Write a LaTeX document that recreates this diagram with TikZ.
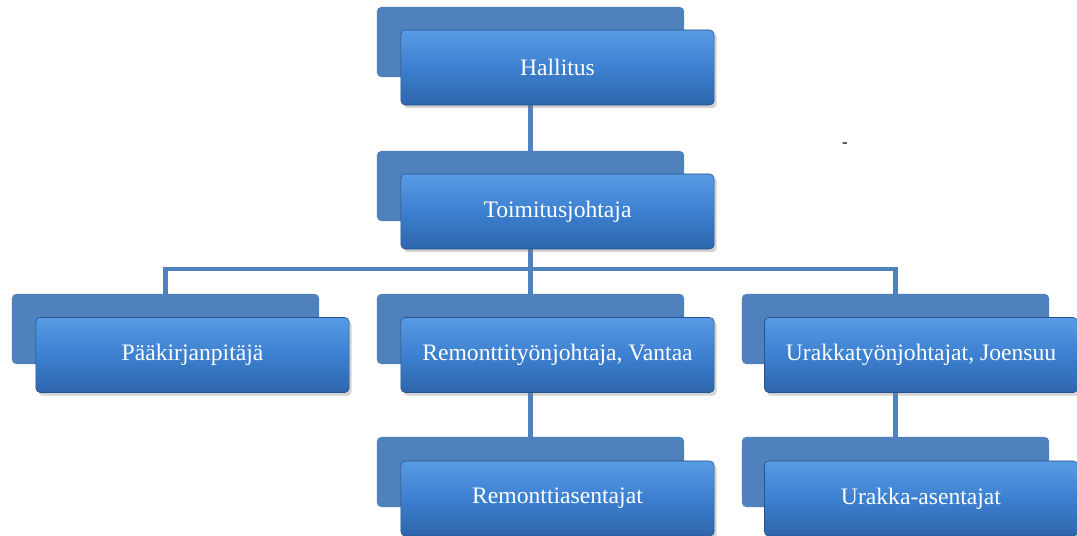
\documentclass[tikz,border=0pt]{standalone}
\usepackage{fontspec}
\setmainfont{Liberation Serif}
\usetikzlibrary{shadows}
\definecolor{backblue}{RGB}{79,129,189}
\definecolor{fronttop}{RGB}{88,155,228}
\definecolor{frontmid}{RGB}{60,128,208}
\definecolor{frontbot}{RGB}{46,102,172}
\tikzset{
  link/.style={draw=backblue,line width=3pt},
  backbox/.style={rounded corners=3pt,fill=backblue,minimum width=7.675cm,
                  minimum height=1.75cm,inner sep=0pt},
  frontbox/.style={rounded corners=3pt,draw=frontbot!80!black,line width=0.4pt,
                   top color=fronttop,bottom color=frontbot,middle color=frontmid,
                   drop shadow={shadow xshift=0.4ex,shadow yshift=-0.5ex,opacity=0.35},
                   minimum width=7.825cm,minimum height=1.875cm,inner sep=0pt,
                   text=white,font=\fontsize{16.8}{20}\selectfont}
}
\begin{document}
\begin{tikzpicture}[x=0.025cm,y=-0.025cm]
  \useasboundingbox (0,0) rectangle (1077,536);
  % back plates
  \node[backbox] (hallB) at (530.5,42) {};
  \node[backbox] (toimB) at (530.5,186) {};
  \node[backbox] (paaB) at (165.5,329) {};
  \node[backbox] (remB) at (530.5,329) {};
  \node[backbox] (urakB) at (895.5,329) {};
  \node[backbox] (remaB) at (530.5,472) {};
  \node[backbox] (urakaB) at (895.5,472) {};
  % connectors
  \draw[link] (hallB.south) -- (toimB.north);
  \draw[link] (toimB.south) -- ++(0,48) -| (paaB.north);
  \draw[link] (toimB.south) -- ++(0,48) -| (urakB.north);
  \draw[link] (toimB.south) -- (remB.north);
  \draw[link] (remB.south) -- (remaB.north);
  \draw[link] (urakB.south) -- (urakaB.north);
  % front boxes
  \node[frontbox] (hall) at (557.5,67.5) {Hallitus};
  \node[frontbox] (toim) at (557.5,211.5) {Toimitusjohtaja};
  \node[frontbox] (paa) at (192.5,355) {Pääkirjanpitäjä};
  \node[frontbox] (rem) at (557.5,355) {Remonttityönjohtaja, Vantaa};
  \node[frontbox] (urak) at (921,355) {Urakkatyönjohtajat, Joensuu};
  \node[frontbox] (rema) at (557.5,498.5) {Remonttiasentajat};
  \node[frontbox] (uraka) at (921,498.5) {Urakka-asentajat};
  \node[font=\fontsize{12}{14}\selectfont,inner sep=0pt] (dash) at (845,145) {-};
\end{tikzpicture}
\end{document}
